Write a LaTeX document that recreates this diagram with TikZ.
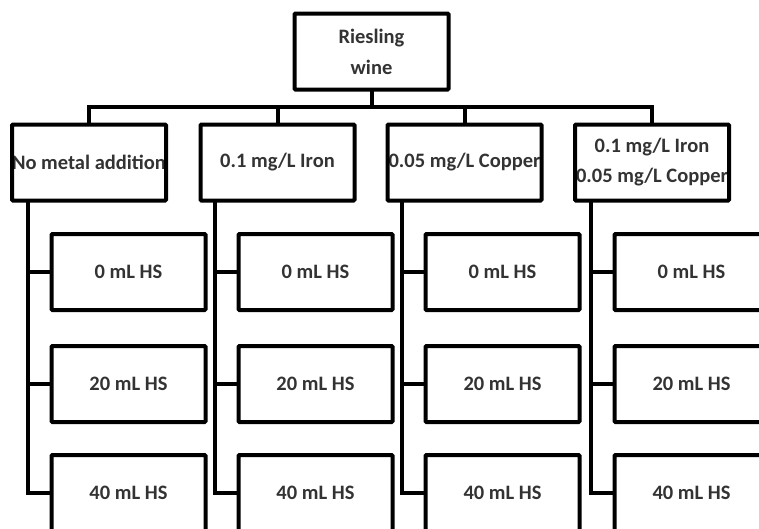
\documentclass[tikz,border=0pt]{standalone}
\usepackage{fontspec}
\setmainfont{Carlito}
\begin{document}
\begin{tikzpicture}[x=1pt,y=-1pt,
  box/.style={draw, line width=4pt, minimum width=154pt, minimum height=76pt,
    inner sep=0pt, outer sep=0pt, rounded corners=1pt, align=center,
    font=\fontsize{20.5}{31}\selectfont\bfseries, text=black!80},
  lvone/.style={box, path picture={\node[font=\fontsize{20.5}{30}\selectfont\bfseries,
      align=center, inner sep=0pt, text=black!80]
      at (path picture bounding box.center) {#1};}},
  wire/.style={line width=4pt}]
\clip (0,0) rectangle (759,528);
% root
\node[box] (root) at (371.5,51.5) {Riesling\\wine};
% level one
\node[lvone={No metal addition}] (b1) at (89,162.5) {};
\node[lvone={0.1 mg/L Iron}] (b2) at (277.5,162.5) {};
\node[lvone={0.05 mg/L Copper}] (b3) at (464.5,162.5) {};
\node[lvone={0.1 mg/L Iron\\0.05 mg/L Copper}] (b4) at (652,162.5) {};
% level two
\foreach \c/\x in {1/128.5,2/315.5,3/502.5,4/691.5}{
  \node[box] (c\c1) at (\x,272) {0 mL HS};
  \node[box] (c\c2) at (\x,384) {20 mL HS};
  \node[box] (c\c3) at (\x,493) {40 mL HS};
}
% bar
\coordinate (bar) at (371.5,107);
\draw[wire] (root.south) -- (root.south |- bar);
\draw[wire] (b1.north) -- (b1.north |- bar) -- (b4.north |- bar) -- (b4.north);
\draw[wire] (b2.north) -- (b2.north |- bar);
\draw[wire] (b3.north) -- (b3.north |- bar);
% trunks
\foreach \c in {1,2,3,4}{
  \coordinate (t\c) at ([xshift=-23.5pt]c\c1.west |- b\c.south);
  \draw[wire] (t\c) |- (c\c3.west);
  \draw[wire] (c\c1.west) -- (c\c1.west -| t\c);
  \draw[wire] (c\c2.west) -- (c\c2.west -| t\c);
}
\end{tikzpicture}
\end{document}
